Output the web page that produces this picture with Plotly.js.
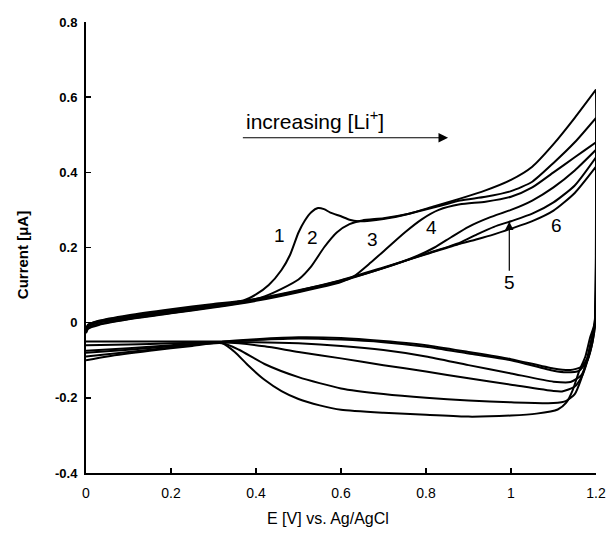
<!DOCTYPE html>
<html>
<head>
<meta charset="utf-8">
<script src="https://cdn.plot.ly/plotly-3.0.1.min.js"></script>
<style>html,body{margin:0;padding:0;background:#fff;}#chart{width:609px;height:540px;}</style>
</head>
<body>
<div id="chart"></div>
<script>
// Forward (anodic) scans, E in V, I in uA
const f1E = [0, 0.005, 0.03, 0.1, 0.2, 0.3, 0.37, 0.40, 0.43, 0.46, 0.48, 0.50, 0.515, 0.53, 0.546, 0.56, 0.575, 0.6, 0.62, 0.64, 0.7, 0.76, 0.82, 0.88, 0.94, 1.0, 1.05, 1.1, 1.15, 1.2];
const f1I = [-0.02, -0.006, 0.005, 0.02, 0.036, 0.05, 0.059, 0.075, 0.1, 0.14, 0.18, 0.24, 0.272, 0.294, 0.305, 0.302, 0.293, 0.283, 0.274, 0.27, 0.276, 0.29, 0.31, 0.33, 0.352, 0.38, 0.415, 0.475, 0.545, 0.62];
const f2E = [0, 0.005, 0.03, 0.1, 0.2, 0.3, 0.38, 0.42, 0.46, 0.50, 0.53, 0.56, 0.59, 0.62, 0.65, 0.7, 0.76, 0.82, 0.88, 0.94, 1.0, 1.05, 1.1, 1.15, 1.2];
const f2I = [-0.018, -0.005, 0.004, 0.017, 0.033, 0.047, 0.059, 0.07, 0.09, 0.115, 0.15, 0.2, 0.24, 0.262, 0.272, 0.278, 0.29, 0.307, 0.325, 0.335, 0.35, 0.375, 0.425, 0.48, 0.545];
const f3E = [0, 0.005, 0.03, 0.1, 0.2, 0.3, 0.4, 0.5, 0.6, 0.63, 0.67, 0.71, 0.75, 0.79, 0.83, 0.88, 0.94, 1.0, 1.05, 1.1, 1.15, 1.2];
const f3I = [-0.028, -0.016, -0.006, 0.009, 0.025, 0.04, 0.058, 0.081, 0.108, 0.123, 0.16, 0.2, 0.24, 0.275, 0.3, 0.315, 0.322, 0.335, 0.36, 0.4, 0.44, 0.48];
const f4E = [0, 0.005, 0.03, 0.1, 0.2, 0.3, 0.4, 0.5, 0.6, 0.7, 0.78, 0.82, 0.86, 0.9, 0.95, 1.0, 1.05, 1.1, 1.15, 1.2];
const f4I = [-0.022, -0.01, 0.0, 0.013, 0.029, 0.044, 0.061, 0.085, 0.112, 0.145, 0.178, 0.2, 0.228, 0.255, 0.28, 0.3, 0.325, 0.36, 0.405, 0.46];
const f5E = [0, 0.005, 0.03, 0.1, 0.2, 0.3, 0.4, 0.5, 0.6, 0.7, 0.8, 0.88, 0.92, 0.96, 1.0, 1.05, 1.1, 1.15, 1.2];
const f5I = [-0.026, -0.014, -0.004, 0.01, 0.026, 0.042, 0.06, 0.083, 0.11, 0.145, 0.183, 0.213, 0.235, 0.255, 0.27, 0.29, 0.32, 0.365, 0.44];
const f6E = [0, 0.005, 0.03, 0.1, 0.2, 0.3, 0.4, 0.5, 0.6, 0.7, 0.8, 0.88, 0.92, 0.96, 1.0, 1.05, 1.1, 1.15, 1.2];
const f6I = [-0.021, -0.008, 0.003, 0.016, 0.032, 0.046, 0.063, 0.086, 0.113, 0.147, 0.182, 0.21, 0.222, 0.235, 0.25, 0.27, 0.298, 0.345, 0.415];

// Reverse (cathodic) scans
const r1E = [1.2, 1.197, 1.186, 1.175, 1.16, 1.145, 1.13, 1.11, 1.06, 1.0, 0.9, 0.8, 0.7, 0.6, 0.55, 0.5, 0.46, 0.42, 0.38, 0.35, 0.32, 0.25, 0.15, 0.05, 0];
const r1I = [0.62, 0.0, -0.04, -0.09, -0.13, -0.18, -0.213, -0.231, -0.242, -0.247, -0.25, -0.245, -0.24, -0.232, -0.22, -0.203, -0.182, -0.152, -0.112, -0.078, -0.055, -0.062, -0.075, -0.09, -0.1];
const r2E = [1.2, 1.197, 1.188, 1.178, 1.165, 1.15, 1.13, 1.1, 1.0, 0.9, 0.8, 0.7, 0.6, 0.5, 0.42, 0.36, 0.32, 0.2, 0.1, 0];
const r2I = [0.545, 0.0, -0.05, -0.1, -0.15, -0.19, -0.208, -0.214, -0.212, -0.207, -0.2, -0.19, -0.175, -0.145, -0.11, -0.072, -0.054, -0.066, -0.078, -0.09];
const r3E = [1.2, 1.197, 1.19, 1.18, 1.168, 1.15, 1.12, 1.1, 1.0, 0.9, 0.8, 0.7, 0.6, 0.5, 0.42, 0.36, 0.32, 0.2, 0.1, 0];
const r3I = [0.48, 0.0, -0.05, -0.1, -0.14, -0.17, -0.183, -0.182, -0.165, -0.148, -0.13, -0.113, -0.095, -0.078, -0.063, -0.055, -0.053, -0.063, -0.072, -0.08];
const r4E = [1.2, 1.198, 1.19, 1.18, 1.165, 1.14, 1.1, 1.0, 0.9, 0.8, 0.7, 0.6, 0.5, 0.4, 0.32, 0.2, 0.1, 0];
const r4I = [0.46, 0.0, -0.05, -0.1, -0.14, -0.158, -0.157, -0.135, -0.113, -0.09, -0.073, -0.062, -0.055, -0.052, -0.052, -0.06, -0.068, -0.075];
const r5E = [1.2, 1.198, 1.192, 1.18, 1.16, 1.13, 1.1, 1.0, 0.9, 0.8, 0.7, 0.6, 0.5, 0.4, 0.32, 0.2, 0.1, 0];
const r5I = [0.44, 0.0, -0.05, -0.1, -0.128, -0.132, -0.128, -0.1, -0.082, -0.064, -0.052, -0.045, -0.042, -0.046, -0.051, -0.055, -0.058, -0.06];
const r6E = [1.2, 1.198, 1.192, 1.182, 1.165, 1.14, 1.1, 1.0, 0.9, 0.8, 0.7, 0.6, 0.5, 0.4, 0.32, 0.2, 0.1, 0];
const r6I = [0.415, 0.0, -0.05, -0.09, -0.118, -0.126, -0.122, -0.097, -0.078, -0.06, -0.049, -0.041, -0.039, -0.044, -0.05, -0.05, -0.05, -0.05];

const xTickVals = [0, 0.2, 0.4, 0.6, 0.8, 1.0, 1.2];
const xTickText = ['0', '0.2', '0.4', '0.6', '0.8', '1', '1.2'];
const yTickVals = [-0.4, -0.2, 0, 0.2, 0.4, 0.6, 0.8];
const yTickText = ['-0.4', '-0.2', '0', '0.2', '0.4', '0.6', '0.8'];

const curveLabels = ['1', '2', '3', '4', '6'];
const labelE = [0.456, 0.534, 0.673, 0.814, 1.106];
const labelI = [0.231, 0.226, 0.221, 0.253, 0.258];
// label "5" with arrow pointing at its curve
const label5 = {text: '5', E: 0.996, I: 0.106, tipE: 0.996, tipI: 0.269};

const fwd = [[f1E, f1I], [f2E, f2I], [f3E, f3I], [f4E, f4I], [f5E, f5I], [f6E, f6I]];
const rev = [[r1E, r1I], [r2E, r2I], [r3E, r3I], [r4E, r4I], [r5E, r5I], [r6E, r6I]];

const traces = fwd.map((f, i) => ({
  x: f[0].concat(rev[i][0]),
  y: f[1].concat(rev[i][1]),
  type: 'scatter', mode: 'lines',
  line: {color: '#000', width: 2, shape: 'spline', smoothing: 0.6},
  hoverinfo: 'skip', showlegend: false
}));

const FONT = 'Arial, Liberation Sans, Helvetica, sans-serif';
const annotations = curveLabels.map((t, i) => ({
  x: labelE[i], y: labelI[i], xref: 'x', yref: 'y', text: t, showarrow: false,
  font: {family: FONT, size: 19, color: '#000'}
}));
annotations.push({
  x: label5.tipE, y: label5.tipI, ax: label5.E, ay: label5.I, xref: 'x', yref: 'y', axref: 'x', ayref: 'y',
  text: label5.text, showarrow: true, arrowhead: 2, arrowsize: 1.4, arrowwidth: 1.2, arrowcolor: '#000',
  font: {family: FONT, size: 19, color: '#000'}
});
annotations.push({
  x: 0.539, y: 0.54, xref: 'x', yref: 'y', text: 'increasing [Li<sup>+</sup>]', showarrow: false,
  font: {family: FONT, size: 21, color: '#000'}
});
annotations.push({
  x: 0.852, y: 0.492, ax: 0.362, ay: 0.492, xref: 'x', yref: 'y', axref: 'x', ayref: 'y',
  text: ' ', showarrow: true, arrowhead: 2, arrowsize: 1.6, arrowwidth: 1.2, arrowcolor: '#000'
});
// axis titles
annotations.push({
  x: 0.4745, y: -0.1, xref: 'paper', yref: 'paper', xanchor: 'center', yanchor: 'middle',
  text: 'E [V] vs. Ag/AgCl', showarrow: false, font: {family: FONT, size: 16, color: '#000'}
});
annotations.push({
  x: -0.1255, y: 0.483, xref: 'paper', yref: 'paper', xanchor: 'center', yanchor: 'middle',
  text: '<b>Current [μA]</b>', textangle: -90, showarrow: false, font: {family: FONT, size: 15, color: '#000'}
});

const layout = {
  width: 609, height: 540,
  margin: {l: 86, r: 13, t: 22, b: 67},
  paper_bgcolor: '#fff', plot_bgcolor: '#fff',
  showlegend: false,
  font: {family: FONT, color: '#000'},
  xaxis: {
    range: [0, 1.2], tickvals: xTickVals, ticktext: xTickText,
    ticks: 'inside', ticklen: 5, tickwidth: 1.5, tickcolor: '#000',
    showline: true, linewidth: 2, linecolor: '#000', mirror: false,
    showgrid: false, zeroline: false, ticklabelstandoff: 6,
    tickfont: {size: 14, color: '#000'}
  },
  yaxis: {
    range: [-0.4, 0.8], tickvals: yTickVals, ticktext: yTickText,
    ticks: 'inside', ticklen: 5, tickwidth: 1.5, tickcolor: '#000',
    showline: true, linewidth: 2, linecolor: '#000', mirror: false,
    showgrid: false, zeroline: false, ticklabelstandoff: 4,
    tickfont: {size: 13, color: '#000', weight: 'bold'}
  },
  annotations: annotations
};

Plotly.newPlot('chart', traces, layout, {displayModeBar: false, staticPlot: true});
</script>
</body>
</html>
